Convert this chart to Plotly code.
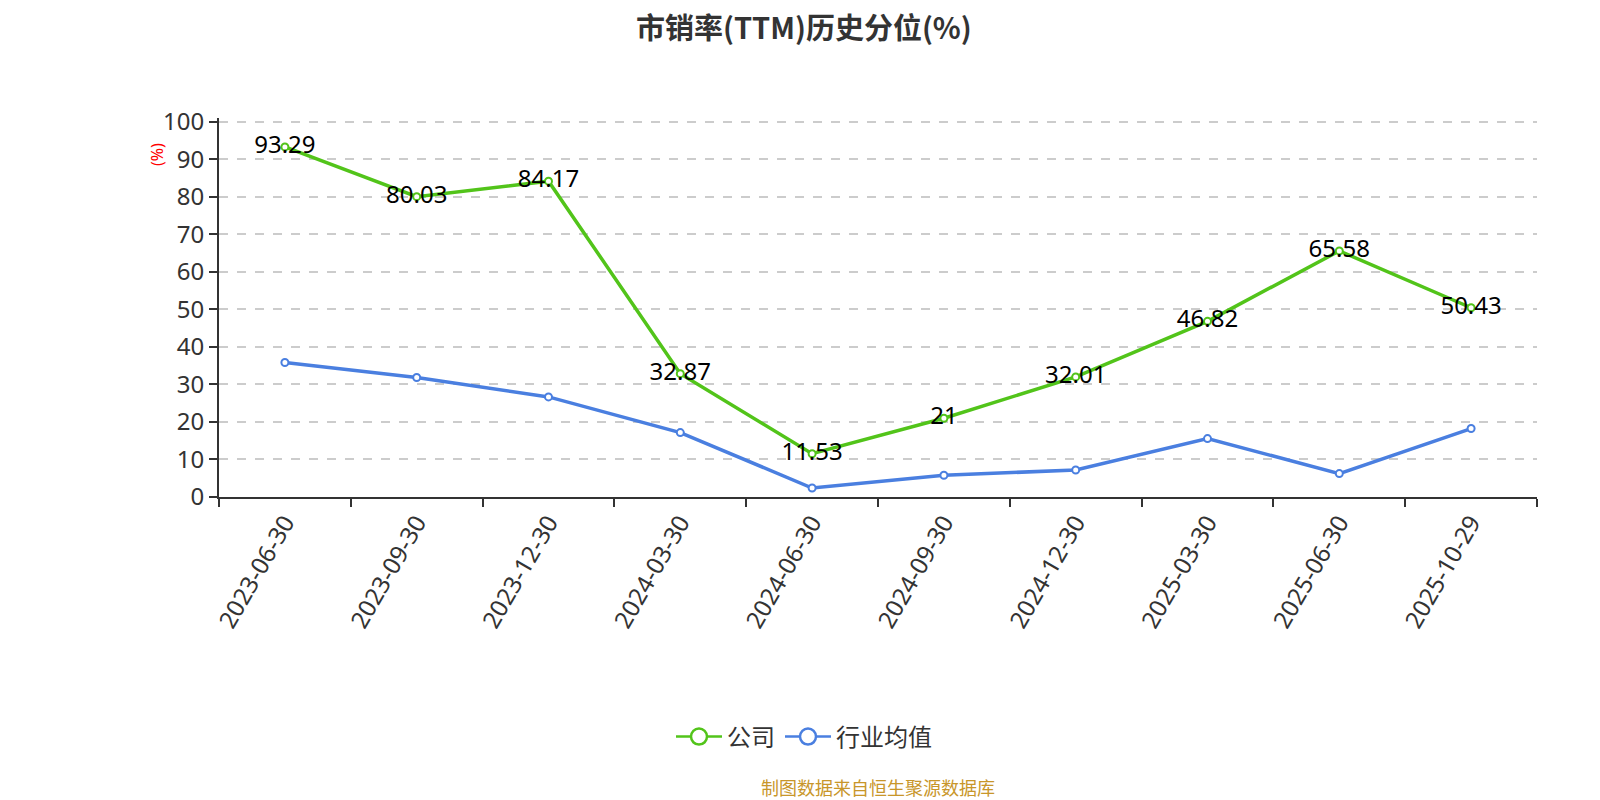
import plotly.graph_objects as go

dates = ["2023-06-30", "2023-09-30", "2023-12-30", "2024-03-30", "2024-06-30",
         "2024-09-30", "2024-12-30", "2025-03-30", "2025-06-30", "2025-10-29"]
company = [93.29, 80.03, 84.17, 32.87, 11.53, 21, 32.01, 46.82, 65.58, 50.43]
industry = [35.84, 31.84, 26.67, 17.17, 2.4, 5.79, 7.2, 15.57, 6.24, 18.24]
yticks = [0, 10, 20, 30, 40, 50, 60, 70, 80, 90, 100]

GREEN = "#52c41a"
BLUE = "#4a7fe0"
FONT = "Noto Sans, Noto Sans CJK SC, sans-serif"
CJK = "Noto Sans CJK SC, sans-serif"

W, H = 1592, 792
L, R, T, B = 211, 63, 110, 303
PH = H - T - B
PB = H - B
PW = W - L - R

fig = go.Figure()
fig.add_trace(go.Scatter(
    x=dates, y=company, mode="lines+markers+text", name="公司",
    text=[str(v) for v in company], textposition="middle center",
    textfont=dict(size=24, color="#000000", family=FONT),
    line=dict(color=GREEN, width=3.5),
    marker=dict(size=7, color="#ffffff", line=dict(color=GREEN, width=2)),
    showlegend=False, cliponaxis=False,
))
fig.add_trace(go.Scatter(
    x=dates, y=industry, mode="lines+markers", name="行业均值",
    line=dict(color=BLUE, width=3.5),
    marker=dict(size=7, color="#ffffff", line=dict(color=BLUE, width=2)),
    showlegend=False, cliponaxis=False,
))
# legend-only entries with larger symbols
for nm, col in [("公司", GREEN), ("行业均值", BLUE)]:
    fig.add_trace(go.Scatter(
        x=[None], y=[None], mode="lines+markers", name=nm,
        line=dict(color=col, width=2.5),
        marker=dict(size=16, color="#ffffff", line=dict(color=col, width=2.5)),
    ))

fig.update_layout(
    width=W, height=H,
    margin=dict(l=L, r=R, t=T, b=B, autoexpand=False),
    paper_bgcolor="#ffffff", plot_bgcolor="#ffffff",
    font=dict(family=FONT, color="#333333"),
    showlegend=True,
    legend=dict(orientation="h", x=0.5, xanchor="center", xref="container",
                y=1 - 729 / H, yref="container", yanchor="middle",
                font=dict(size=24, color="#333333", family=CJK),
                itemwidth=46, tracegroupgap=0),
    xaxis=dict(
        type="category", categoryorder="array", categoryarray=dates,
        range=[-0.5, len(dates) - 0.5],
        tickson="boundaries", ticks="outside", ticklen=8, tickwidth=2, tickcolor="#333333",
        showline=True, linecolor="#333333", linewidth=2,
        showgrid=False, tickangle=-60,
        tickfont=dict(size=24, color="#333333", family=FONT),
    ),
    yaxis=dict(
        range=[0, 101], tickvals=yticks, ticks="outside", ticklen=8, tickwidth=2,
        tickcolor="#333333", showline=True, linecolor="#333333", linewidth=2,
        showgrid=True, gridcolor="#cccccc", griddash="dash", gridwidth=1.5,
        zeroline=False,
        tickfont=dict(size=24, color="#333333", family=FONT),
    ),
    annotations=[
        dict(text="<b>市销率(TTM)历史分位(%)</b>", xref="paper", yref="paper",
             x=(W / 2 - L) / PW, y=(PB - 18) / PH, xanchor="center", yanchor="middle",
             showarrow=False,
             font=dict(size=29, color="#333333", family=CJK)),
        dict(text="(%)", textangle=-90, xref="paper", yref="paper",
             x=(149 - L) / PW, y=(PB - 147) / PH, xanchor="center",
             yanchor="middle", showarrow=False,
             font=dict(size=16, color="#ff0000", family=FONT)),
        dict(text="制图数据来自恒生聚源数据库", xref="paper", yref="paper",
             x=0.5, y=(PB - 779) / PH, xanchor="center", yanchor="middle",
             showarrow=False,
             font=dict(size=18, color="#c8962a", family=CJK)),
    ],
)

fig.write_html("out.html")
